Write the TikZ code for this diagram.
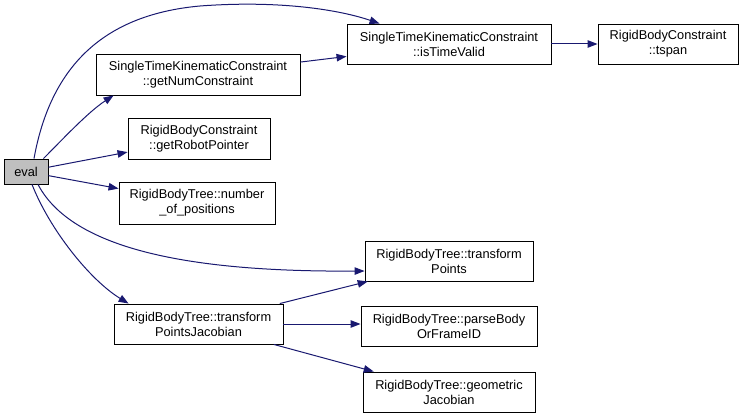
\documentclass[tikz,border=0pt]{standalone}
\usepackage{fontspec}
\setmainfont{Liberation Sans}
\usetikzlibrary{arrows.meta}

\definecolor{edgeblue}{HTML}{191970}
\definecolor{evalgray}{HTML}{BFBFBF}

\begin{document}
\begin{tikzpicture}[
    x=1pt, y=-1pt,
    fn/.style={draw, line width=0.9pt, fill=white, align=center, inner sep=0pt,
               minimum height=40pt, font=\fontsize{12.8}{15}\selectfont},
    call/.style={-{Triangle[length=10pt, width=7.5pt]}, draw=edgeblue,
                 line width=1pt}
]
\useasboundingbox (0,0) rectangle (744,417);

% Caller
\node[fn, fill=evalgray, minimum width=44pt, minimum height=25pt] (eval) at (26,171.5) {eval};

% Called functions
\node[fn, minimum width=204pt, minimum height=41pt] (getnum) at (198,74.5)
  {SingleTimeKinematicConstraint\\::getNumConstraint};
\node[fn, minimum width=204pt] (timevalid) at (449,44)
  {SingleTimeKinematicConstraint\\::isTimeValid};
\node[fn, minimum width=140pt] (tspan) at (668,44)
  {RigidBodyConstraint\\::tspan};
\node[fn, minimum width=142pt, minimum height=41pt] (robotptr) at (199,138.5)
  {RigidBodyConstraint\\::getRobotPointer};
\node[fn, minimum width=156pt, minimum height=42pt] (numpos) at (197,203)
  {RigidBodyTree::number\\\_of\_positions};
\node[fn, minimum width=168pt] (tpoints) at (449,261)
  {RigidBodyTree::transform\\Points};
\node[fn, minimum width=169pt] (tpjac) at (198.5,324)
  {RigidBodyTree::transform\\PointsJacobian};
\node[fn, minimum width=176pt] (parsebody) at (449,326)
  {RigidBodyTree::parseBody\\OrFrameID};
\node[fn, minimum width=172pt] (geojac) at (449,392)
  {RigidBodyTree::geometric\\Jacobian};

% Calls from eval
\draw[call] ([xshift=8pt]eval.north) .. controls (50,70) and (100,15) .. (200,6)
  .. controls (280,0) and (340,10) .. ([xshift=33pt]timevalid.north west);
\draw[call] ([xshift=-5pt]eval.north east) .. controls (62,140) and (88,112)
  .. ([xshift=18pt]getnum.south west);
\draw[call] (eval) -- (robotptr);
\draw[call] (eval) -- (numpos);
\draw[call] ([xshift=12pt]eval.south) .. controls (75,255) and (210,272)
  .. ([yshift=-10pt]tpoints.west);
\draw[call] ([xshift=6pt]eval.south) .. controls (50,230) and (90,280)
  .. ([xshift=15pt]tpjac.north west);

% Further calls
\draw[call] (getnum) -- (timevalid);
\draw[call] (timevalid) -- (tspan);
\draw[call] (tpjac) -- (tpoints);
\draw[call] (tpjac.east) -- (tpjac.east -| parsebody.west);
\draw[call] (tpjac) -- (geojac);
\end{tikzpicture}
\end{document}
